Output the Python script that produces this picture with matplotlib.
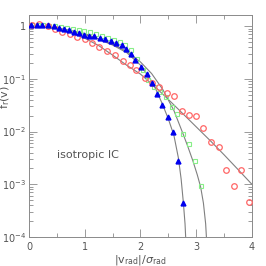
import matplotlib
matplotlib.use("Agg")
import matplotlib.pyplot as plt
from matplotlib.ticker import FixedLocator, LogLocator, NullFormatter, MultipleLocator

# measured points (v / sigma, f)
v_tri = [0.04, 0.14, 0.24, 0.335, 0.44, 0.53, 0.62, 0.72, 0.81, 0.89, 0.99, 1.08, 1.17, 1.27, 1.37,
         1.47, 1.555, 1.66, 1.74, 1.83, 1.91, 2.01, 2.12, 2.21, 2.30, 2.39, 2.49, 2.58, 2.68, 2.77]
f_tri = [1.07, 1.07, 1.06, 1.03, 0.99, 0.94, 0.88, 0.84, 0.78, 0.73, 0.68, 0.65, 0.64, 0.60, 0.56,
         0.52, 0.47, 0.44, 0.37, 0.30, 0.23, 0.164, 0.123, 0.084, 0.051, 0.032, 0.0186, 0.010, 0.00275, 0.00044]

v_sq = [0.05, 0.155, 0.26, 0.365, 0.47, 0.575, 0.68, 0.785, 0.89, 0.995, 1.10, 1.205, 1.31, 1.415, 1.52,
        1.625, 1.73, 1.835, 1.94, 2.04, 2.13, 2.24, 2.345, 2.45, 2.56, 2.66, 2.77, 2.875, 2.98, 3.085]
f_sq = [1.05, 1.05, 1.035, 1.02, 1.0, 0.98, 0.93, 0.90, 0.86, 0.81, 0.76, 0.71, 0.66, 0.60, 0.55,
        0.49, 0.43, 0.35, 0.24, 0.148, 0.095, 0.069, 0.056, 0.046, 0.029, 0.0214, 0.0091, 0.0059, 0.0028, 0.00091]

v_circ = [0.05, 0.185, 0.335, 0.47, 0.6, 0.735, 0.87, 1.0, 1.125, 1.26, 1.4, 1.54, 1.68, 1.81, 1.925,
          2.075, 2.21, 2.34, 2.475, 2.6, 2.74, 2.87, 3.0, 3.13, 3.27, 3.41, 3.54, 3.68, 3.80, 3.95]
f_circ = [1.07, 1.08, 1.01, 0.90, 0.78, 0.72, 0.63, 0.56, 0.47, 0.40, 0.34, 0.28, 0.22, 0.18, 0.15,
          0.102, 0.083, 0.069, 0.055, 0.047, 0.025, 0.021, 0.0195, 0.0115, 0.0062, 0.0051, 0.0019, 0.00093, 0.0019, 0.00047]

# model curves
v_a = [0, 0.25, 0.5, 0.75, 1.0, 1.25, 1.5, 1.75, 2.0, 2.2, 2.3, 2.4, 2.5, 2.6, 2.68, 2.73, 2.77, 2.80, 2.825]
f_a = [1.0, 0.977, 0.912, 0.813, 0.692, 0.562, 0.437, 0.316, 0.182, 0.091, 0.056, 0.032, 0.0174, 0.0085,
       0.0032, 0.00126, 0.00045, 0.000178, 0.00005]

v_b = [0, 0.5, 1.0, 1.5, 1.75, 2.0, 2.2, 2.4, 2.6, 2.76, 2.85, 2.94, 3.02, 3.08, 3.13, 3.17, 3.2]
f_b = [1.0, 0.933, 0.724, 0.457, 0.331, 0.209, 0.126, 0.063, 0.0251, 0.0093, 0.0052, 0.0028, 0.00151,
       0.00089, 0.00044, 0.000178, 0.00005]

v_c = [0, 0.25, 0.5, 0.75, 1.0, 1.25, 1.5, 1.75, 2.0, 2.25, 2.5, 2.75, 3.0, 3.25, 3.5, 3.75, 4.0]
f_c = [1.0, 0.977, 0.891, 0.759, 0.589, 0.427, 0.282, 0.182, 0.123, 0.0724, 0.0407, 0.0224, 0.0123,
       0.00676, 0.00363, 0.00191, 0.001]

ytick_vals = [1e-4, 1e-3, 1e-2, 1e-1, 1]
ytick_labels = [r'$10^{-4}$', r'$10^{-3}$', r'$10^{-2}$', r'$10^{-1}$', '1']

grey = '#8a8a8a'
txt = '#555555'

fig = plt.figure(figsize=(2.66, 2.66), dpi=100)
ax = fig.add_axes([0.109, 0.109, 0.838, 0.836])

for vv, ff in [(v_a, f_a), (v_b, f_b), (v_c, f_c)]:
    ax.plot(vv, ff, color='#808080', lw=0.8, zorder=1)

ax.plot(v_sq, f_sq, 's', ms=3.5, mfc='none', mec='#88ee88', mew=0.8, zorder=2)
ax.plot(v_circ, f_circ, 'o', ms=4.0, mfc='none', mec='#ff6666', mew=0.9, zorder=3)
ax.plot(v_tri, f_tri, '^', ms=3.5, color='#0000ee', zorder=4)

ax.set_yscale('log')
ax.set_xlim(0, 4)
ax.set_ylim(1e-4, 1.65)

ax.yaxis.set_major_locator(FixedLocator(ytick_vals))
ax.set_yticklabels(ytick_labels)
ax.yaxis.set_minor_locator(LogLocator(base=10, subs=range(2, 10), numticks=20))
ax.yaxis.set_minor_formatter(NullFormatter())
ax.xaxis.set_major_locator(MultipleLocator(1))
ax.xaxis.set_minor_locator(MultipleLocator(0.5))

ax.tick_params(which='both', direction='in', top=True, right=True, color=grey,
               labelcolor=txt, labelsize=7, width=0.6)
ax.tick_params(which='major', length=6)
ax.tick_params(which='minor', length=3)
ax.tick_params(axis='y', pad=2)
for s in ax.spines.values():
    s.set_color(grey)
    s.set_linewidth(0.7)

ax.set_xlabel(r'$|\mathrm{v}_{\rm rad}|/\sigma_{\rm rad}$', color=txt, fontsize=8, labelpad=1)
ax.set_ylabel(r'$\mathrm{f}_{\rm r}(\mathrm{v})$', color=txt, fontsize=8)
ax.yaxis.set_label_coords(-0.075, 0.63)
ax.text(0.5, 10**-2.45, 'isotropic IC', color=txt, fontsize=8, va='center')

fig.savefig('out.png', dpi=100)
